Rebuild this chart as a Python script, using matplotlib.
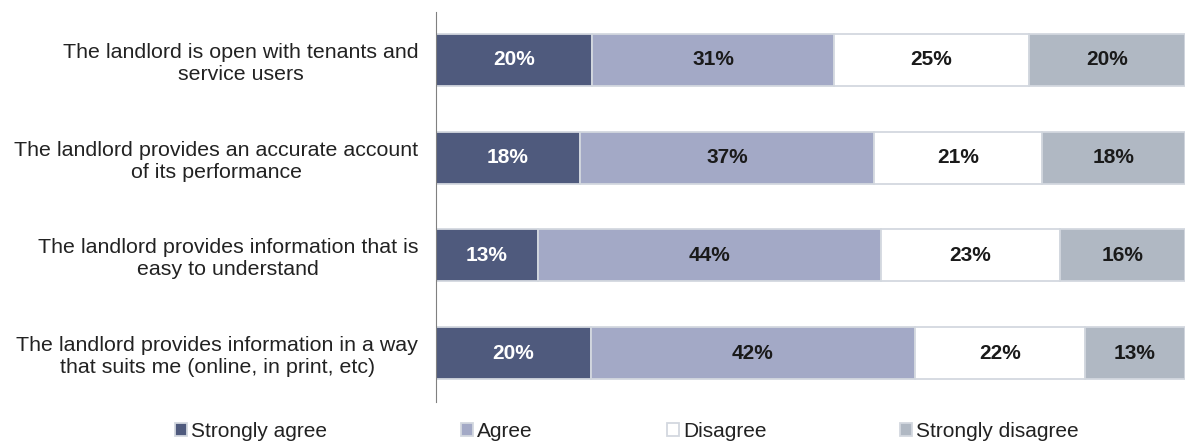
import matplotlib
matplotlib.use('Agg')
import matplotlib.pyplot as plt
import numpy as np

plt.rcParams['font.family'] = ['Liberation Sans', 'DejaVu Sans']

# survey statements, top to bottom
statements = ["The landlord is open with tenants and\nservice users",
              "The landlord provides an accurate account\nof its performance",
              "The landlord provides information that is\neasy to understand",
              "The landlord provides information in a way\nthat suits me (online, in print, etc)"]

responses = ["Strongly agree", "Agree", "Disagree", "Strongly disagree"]

strongly_agree = [20, 18, 13, 20]
agree = [31, 37, 44, 42]
disagree = [25, 21, 23, 22]
strongly_disagree = [20, 18, 16, 13]

colours = ["#4f5a7d", "#a3a9c6", "#ffffff", "#b0b8c3"]
text_colours = ["white", "#1a1a1a", "#1a1a1a", "#1a1a1a"]

values = np.array([strongly_agree, agree, disagree, strongly_disagree], dtype=float)
# each bar is scaled to the share of answers shown
shares = values / values.sum(axis=0)

fig = plt.figure(figsize=(11.92, 4.48), dpi=100)
ax = fig.add_axes([0.366, 0.103, 0.628, 0.870])

y = np.arange(len(statements))
left = np.zeros(len(statements))
for i, name in enumerate(responses):
    bars = ax.barh(y, shares[i], left=left, height=0.53, color=colours[i],
                   edgecolor="#d3d8df", linewidth=1.3, label=name)
    for j, b in enumerate(bars):
        ax.text(left[j] + shares[i][j] / 2, y[j], "{:.0f}%".format(values[i][j]),
                ha="center", va="center", fontsize=15, fontweight="bold",
                color=text_colours[i])
    left += shares[i]

ax.set_xlim(0, 1)
ax.set_ylim(3.5, -0.49)
ax.set_yticks(y)
ax.set_yticklabels(statements, fontsize=15.4, color="#222222")
for lab in ax.get_yticklabels():
    lab.set_multialignment("center")
ax.tick_params(axis="y", length=0, pad=13)
ax.set_xticks([])

for side in ["top", "right", "bottom"]:
    ax.spines[side].set_visible(False)
ax.spines["left"].set_color("#808080")
ax.spines["left"].set_linewidth(0.8)

fig.legend(loc="lower center", bbox_to_anchor=(0.526, -0.026), ncol=4,
           frameon=False, fontsize=15, handlelength=0.58, handleheight=0.58,
           handletextpad=0.19, columnspacing=6.43, labelcolor="#222222")

fig.savefig("out.png", dpi=100)
